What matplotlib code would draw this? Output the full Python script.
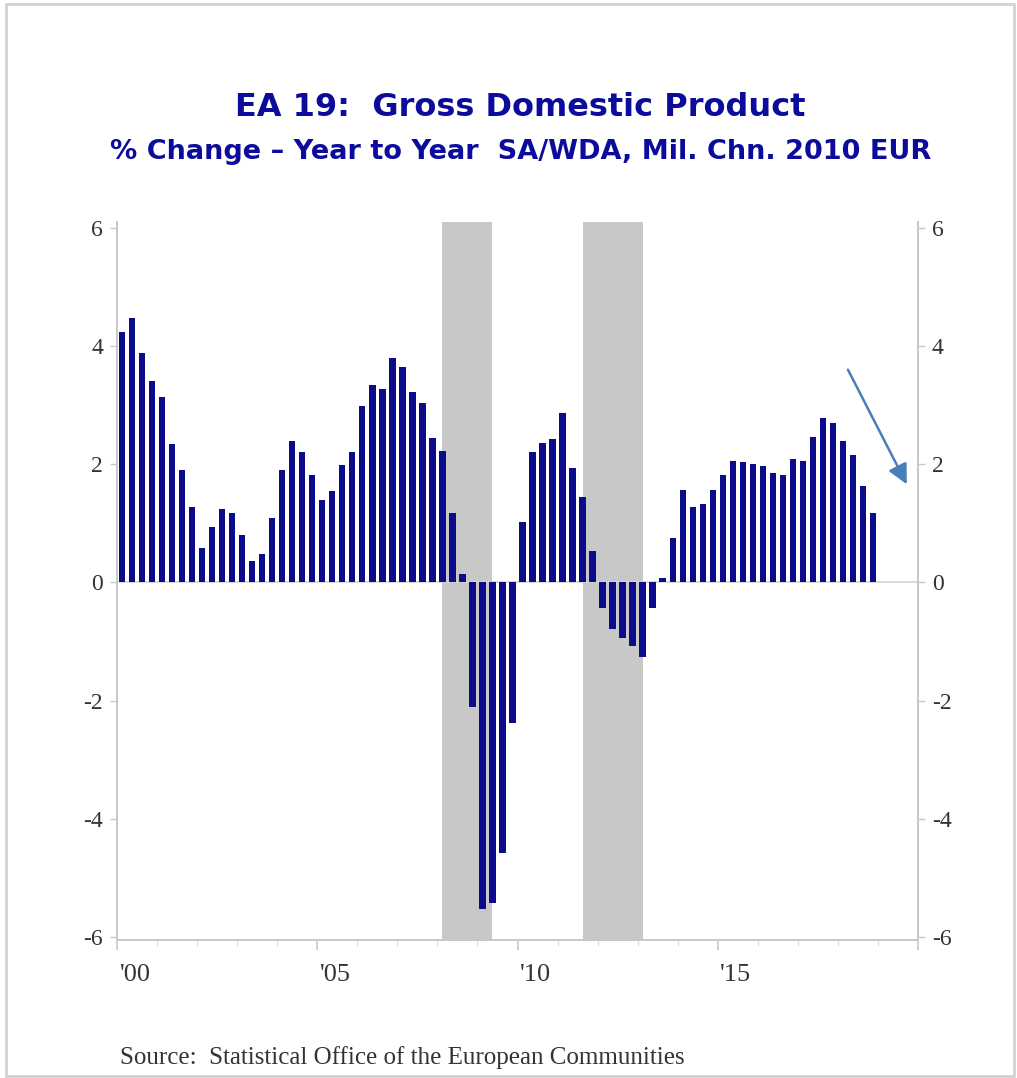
import matplotlib.pyplot as plt
import matplotlib.patches as patches
from matplotlib.transforms import blended_transform_factory
import numpy as np

# Euro area real GDP, % change year to year, quarterly 2000Q1-2018Q4
first_year = 2000
gdp_yoy = [
    4.23, 4.47, 3.89, 3.41, 3.13, 2.34, 1.91, 1.27,
    0.58, 0.94, 1.24, 1.18, 0.81, 0.36, 0.49, 1.09,
    1.91, 2.39, 2.21, 1.82, 1.40, 1.55, 1.98, 2.21,
    2.98, 3.34, 3.28, 3.80, 3.65, 3.23, 3.04, 2.44,
    2.22, 1.18, 0.15, -2.11, -5.53, -5.42, -4.57, -2.37,
    1.03, 2.21, 2.36, 2.43, 2.86, 1.94, 1.45, 0.54,
    -0.43, -0.79, -0.94, -1.07, -1.26, -0.43, 0.08, 0.75,
    1.57, 1.27, 1.33, 1.57, 1.82, 2.06, 2.03, 2.00,
    1.97, 1.85, 1.82, 2.09, 2.06, 2.46, 2.79, 2.69,
    2.39, 2.15, 1.63, 1.17,
]
quarters = [f"{first_year + i // 4}Q{i % 4 + 1}" for i in range(len(gdp_yoy))]

# CEPR euro area recessions (first quarter, last quarter)
recessions = [("2008Q1", "2009Q2"), ("2011Q3", "2013Q1")]

year_labels = ["'00", "'05", "'10", "'15"]
label_years = [2000, 2005, 2010, 2015]
yticks = [-6, -4, -2, 0, 2, 4, 6]

navy = "#0b0b8c"
title_blue = "#0c0c9c"
axis_grey = "#c8c8c8"


def q_to_x(q):
    # middle of the quarter, in fractional years
    y, n = q.split("Q")
    return int(y) + (int(n) - 1) * 0.25 + 0.125


x = np.array([q_to_x(q) for q in quarters])

fig = plt.figure(figsize=(10.17, 10.78), dpi=100)
ax = fig.add_axes([0.1150, 0.1280, 0.7877, 0.6661])

for start, end in recessions:
    ax.axvspan(q_to_x(start), q_to_x(end), color="#c8c8c8", lw=0, zorder=0)

ax.axhline(0, color="#d4d4d4", lw=1.2, zorder=1)
ax.bar(x, gdp_yoy, width=0.16, color=navy, zorder=2)

ax.set_xlim(2000, 2020)
ax.set_ylim(-6.05, 6.1)

ax.spines["top"].set_visible(False)
for side in ["left", "right", "bottom"]:
    ax.spines[side].set_color(axis_grey)
    ax.spines[side].set_linewidth(1.4)

# x axis: 5-year major marks, yearly minor marks, labels set mid-year
ax.set_xticks([2000, 2005, 2010, 2015, 2020])
ax.set_xticklabels([])
ax.set_xticks(np.arange(2000, 2021), minor=True)
ax.tick_params(axis="x", which="major", length=7, width=1.2, color=axis_grey)
ax.tick_params(axis="x", which="minor", length=4, width=0.8, color="#dddddd")
trans = blended_transform_factory(ax.transData, ax.transAxes)
for yr, lab in zip(label_years, year_labels):
    ax.text(yr + 0.45, -0.049, lab, transform=trans, ha="center", va="center",
            family="Liberation Serif", fontsize=19, color="#333333")

ax.set_yticks(yticks)
ax.set_yticklabels([str(v) for v in yticks])
ax.tick_params(axis="y", which="both", length=5, width=1.0, color=axis_grey,
               left=True, right=True, labelleft=True, labelright=True, pad=5,
               labelsize=17, labelcolor="#333333")
for lab in ax.get_yticklabels():
    lab.set_family("Liberation Serif")

ax.annotate("", xy=(2019.72, 1.66), xytext=(2018.25, 3.6),
            arrowprops=dict(arrowstyle="-|>", color="#4a7ebb", lw=1.8,
                            mutation_scale=30, shrinkA=0, shrinkB=0))

fig.text(0.512, 1 - 108 / 1078, "EA 19:  Gross Domestic Product", ha="center",
         va="center", family="DejaVu Sans", weight="bold", fontsize=23,
         color=title_blue)
fig.text(0.512, 1 - 152 / 1078,
         "% Change \u2013 Year to Year  SA/WDA, Mil. Chn. 2010 EUR",
         ha="center", va="center", family="DejaVu Sans", weight="bold",
         fontsize=19.5, color=title_blue)
fig.text(120 / 1017, 1 - 1058 / 1078,
         "Source:  Statistical Office of the European Communities",
         ha="left", va="center", family="Liberation Serif", fontsize=18,
         color="#333333")

fig.patches.append(patches.Rectangle((6 / 1017, 2 / 1078), 1008 / 1017, 1072 / 1078,
                                     transform=fig.transFigure, fill=False,
                                     edgecolor="#d2d2d2", lw=2))

fig.savefig("out.png", dpi=100)
